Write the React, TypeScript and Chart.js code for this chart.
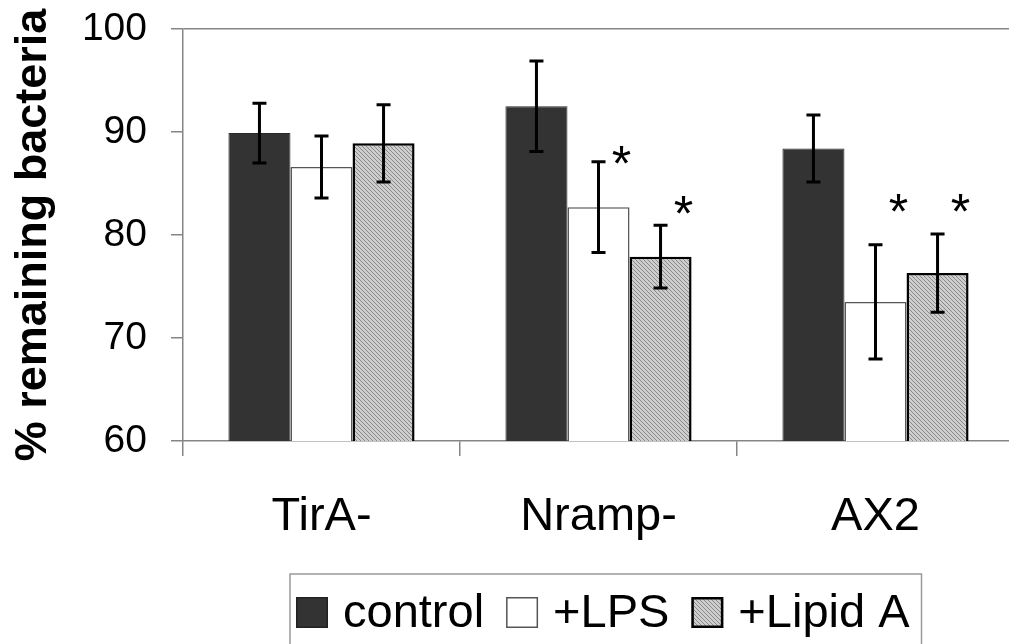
import React, { useEffect, useRef } from 'react';
import { Chart, registerables } from 'chart.js';

Chart.register(...registerables);

const categories = ['TirA-', 'Nramp-', 'AX2'];
const seriesNames = ['control', '+LPS', '+Lipid A'];
const controlValues = [89.9, 92.5, 88.4];
const lpsValues = [86.6, 82.7, 73.5];
const lipidAValues = [88.9, 77.9, 76.3];
const controlErrors = [2.9, 4.4, 3.25];
const lpsErrors = [3.0, 4.4, 5.55];
const lipidAErrors = [3.75, 3.05, 3.8];
const yTicks = [60, 70, 80, 90, 100];
// significance markers
const starCategories = [1, 1, 2, 2];
const starSeries = [1, 2, 1, 2];
const starValues = [88.1, 83.2, 83.4, 83.4];
const starText = '*';

const FONT = '"Liberation Sans", Arial, Helvetica, sans-serif';
const AXIS = '#858585';

function makeHatch(): CanvasPattern | string {
  const c = document.createElement('canvas');
  c.width = 4;
  c.height = 4;
  const g = c.getContext('2d');
  if (!g) return '#bbbbbb';
  g.fillStyle = '#cdcdcd';
  g.fillRect(0, 0, 4, 4);
  g.fillStyle = '#8a8a8a';
  for (let i = 0; i < 4; i++) g.fillRect(i, i, 1, 1);
  const p = g.createPattern(c, 'repeat');
  return p || '#bbbbbb';
}

const errorBarPlugin = {
  id: 'errorBars',
  afterDatasetsDraw(chart: any) {
    const ctx = chart.ctx;
    const yScale = chart.scales.y;
    ctx.save();
    ctx.strokeStyle = '#000';
    ctx.lineWidth = 3;
    ctx.lineCap = 'butt';
    chart.data.datasets.forEach((ds: any, i: number) => {
      const meta = chart.getDatasetMeta(i);
      meta.data.forEach((bar: any, j: number) => {
        const v = ds.data[j];
        const e = ds.errors[j];
        const yTop = yScale.getPixelForValue(v + e);
        const yBot = yScale.getPixelForValue(v - e);
        const x = bar.x;
        ctx.beginPath();
        ctx.moveTo(x, yTop);
        ctx.lineTo(x, yBot);
        ctx.moveTo(x - 7, yTop);
        ctx.lineTo(x + 7, yTop);
        ctx.moveTo(x - 7, yBot);
        ctx.lineTo(x + 7, yBot);
        ctx.stroke();
      });
    });
    // significance stars
    ctx.fillStyle = '#000';
    ctx.font = `50px ${FONT}`;
    ctx.textAlign = 'center';
    ctx.textBaseline = 'alphabetic';
    starValues.forEach((v, k) => {
      const bar = chart.getDatasetMeta(starSeries[k]).data[starCategories[k]];
      const x = bar.x + 23;
      const y = yScale.getPixelForValue(v);
      ctx.fillText(starText, x, y + 29);
    });
    ctx.restore();
  },
};

const boxLegendPlugin = {
  id: 'boxLegend',
  afterDraw(chart: any) {
    const ctx = chart.ctx;
    ctx.save();
    ctx.font = `47px ${FONT}`;
    const startX = 296;
    const sq = 32;
    const sqTop = 597;
    const baseline = 627;
    const boxTop = 574;
    let x = startX;
    const items = chart.data.datasets;
    const widths = items.map((ds: any) => ctx.measureText(ds.label).width);
    let total = 0;
    items.forEach((ds: any, i: number) => {
      total += sq + 15 + widths[i] + (i < items.length - 1 ? 22 : 0);
    });
    ctx.strokeStyle = '#9a9a9a';
    ctx.lineWidth = 1.5;
    ctx.strokeRect(startX - 6, boxTop, total + 18, 120);
    items.forEach((ds: any, i: number) => {
      ctx.fillStyle = ds.backgroundColor;
      ctx.fillRect(x, sqTop, sq, sq - 1);
      ctx.strokeStyle = ds.legendBorder;
      ctx.lineWidth = ds.legendBorderWidth;
      const h = ds.legendBorderWidth / 2;
      ctx.strokeRect(x + h, sqTop + h, sq - 2 * h, sq - 1 - 2 * h);
      ctx.fillStyle = '#000';
      ctx.textAlign = 'left';
      ctx.textBaseline = 'alphabetic';
      ctx.fillText(ds.label, x + sq + 15, baseline);
      x += sq + 15 + widths[i] + 22;
    });
    ctx.restore();
  },
};

export default function App() {
  const ref = useRef<HTMLCanvasElement | null>(null);

  useEffect(() => {
    const canvas = ref.current;
    if (!canvas) return;
    const hatch = makeHatch();
    const chart = new Chart(canvas, {
      type: 'bar',
      data: {
        labels: categories,
        datasets: [
          {
            label: seriesNames[0],
            data: controlValues,
            errors: controlErrors,
            backgroundColor: '#333333',
            borderColor: '#2a2a2a',
            borderWidth: 1,
            borderSkipped: false,
            legendBorder: '#222222',
            legendBorderWidth: 1.5,
          } as any,
          {
            label: seriesNames[1],
            data: lpsValues,
            errors: lpsErrors,
            backgroundColor: '#ffffff',
            borderColor: '#555555',
            borderWidth: 1.5,
            borderSkipped: 'bottom',
            legendBorder: '#555555',
            legendBorderWidth: 1.5,
          } as any,
          {
            label: seriesNames[2],
            data: lipidAValues,
            errors: lipidAErrors,
            backgroundColor: hatch,
            borderColor: '#000000',
            borderWidth: 2.5,
            borderSkipped: false,
            legendBorder: '#000000',
            legendBorderWidth: 2.5,
          } as any,
        ],
      },
      options: {
        responsive: false,
        animation: false,
        devicePixelRatio: 1,
        layout: { padding: { left: 0, top: 29, right: 2, bottom: 0 } },
        datasets: {
          bar: { categoryPercentage: 0.672, barPercentage: 1.0 },
        },
        plugins: {
          legend: { display: false },
          tooltip: { enabled: false },
          title: { display: false },
        },
        scales: {
          x: {
            grid: {
              offset: true,
              color: 'rgba(0,0,0,0)',
              tickColor: AXIS,
              tickLength: 15,
              lineWidth: 1.5,
            },
            border: { color: AXIS, width: 1.5 },
            ticks: {
              color: '#000',
              font: { family: FONT, size: 47 },
              padding: 33,
              maxRotation: 0,
            },
            afterFit: (s: any) => {
              s.height = 203;
              s.paddingLeft = 0;
              s.paddingRight = 0;
            },
          },
          y: {
            min: 60,
            max: 100,
            afterBuildTicks: (s: any) => {
              s.ticks = yTicks.map((v) => ({ value: v }));
            },
            grid: {
              color: (c: any) => (c.tick && c.tick.value === 100 ? AXIS : 'rgba(0,0,0,0)'),
              tickColor: AXIS,
              tickLength: 12,
              lineWidth: 1.5,
            },
            border: { color: AXIS, width: 1.5 },
            ticks: {
              color: '#000',
              font: { family: FONT, size: 39 },
              padding: 24,
            },
            title: {
              display: true,
              text: '% remaining bacteria',
              color: '#000',
              font: { family: FONT, size: 45, weight: 'bold' },
              padding: { top: 7, bottom: 0 },
            },
            afterFit: (s: any) => {
              s.width = 183;
              s.paddingTop = 0;
              s.paddingBottom = 0;
            },
          },
        },
      },
      plugins: [errorBarPlugin, boxLegendPlugin],
    } as any);
    return () => chart.destroy();
  }, []);

  return (
    <div
      style={{
        position: 'fixed',
        left: 0,
        top: 0,
        width: 1009,
        height: 644,
        overflow: 'hidden',
        background: '#fff',
      }}
    >
      <canvas ref={ref} width={1016} height={644} style={{ display: 'block' }} />
    </div>
  );
}
